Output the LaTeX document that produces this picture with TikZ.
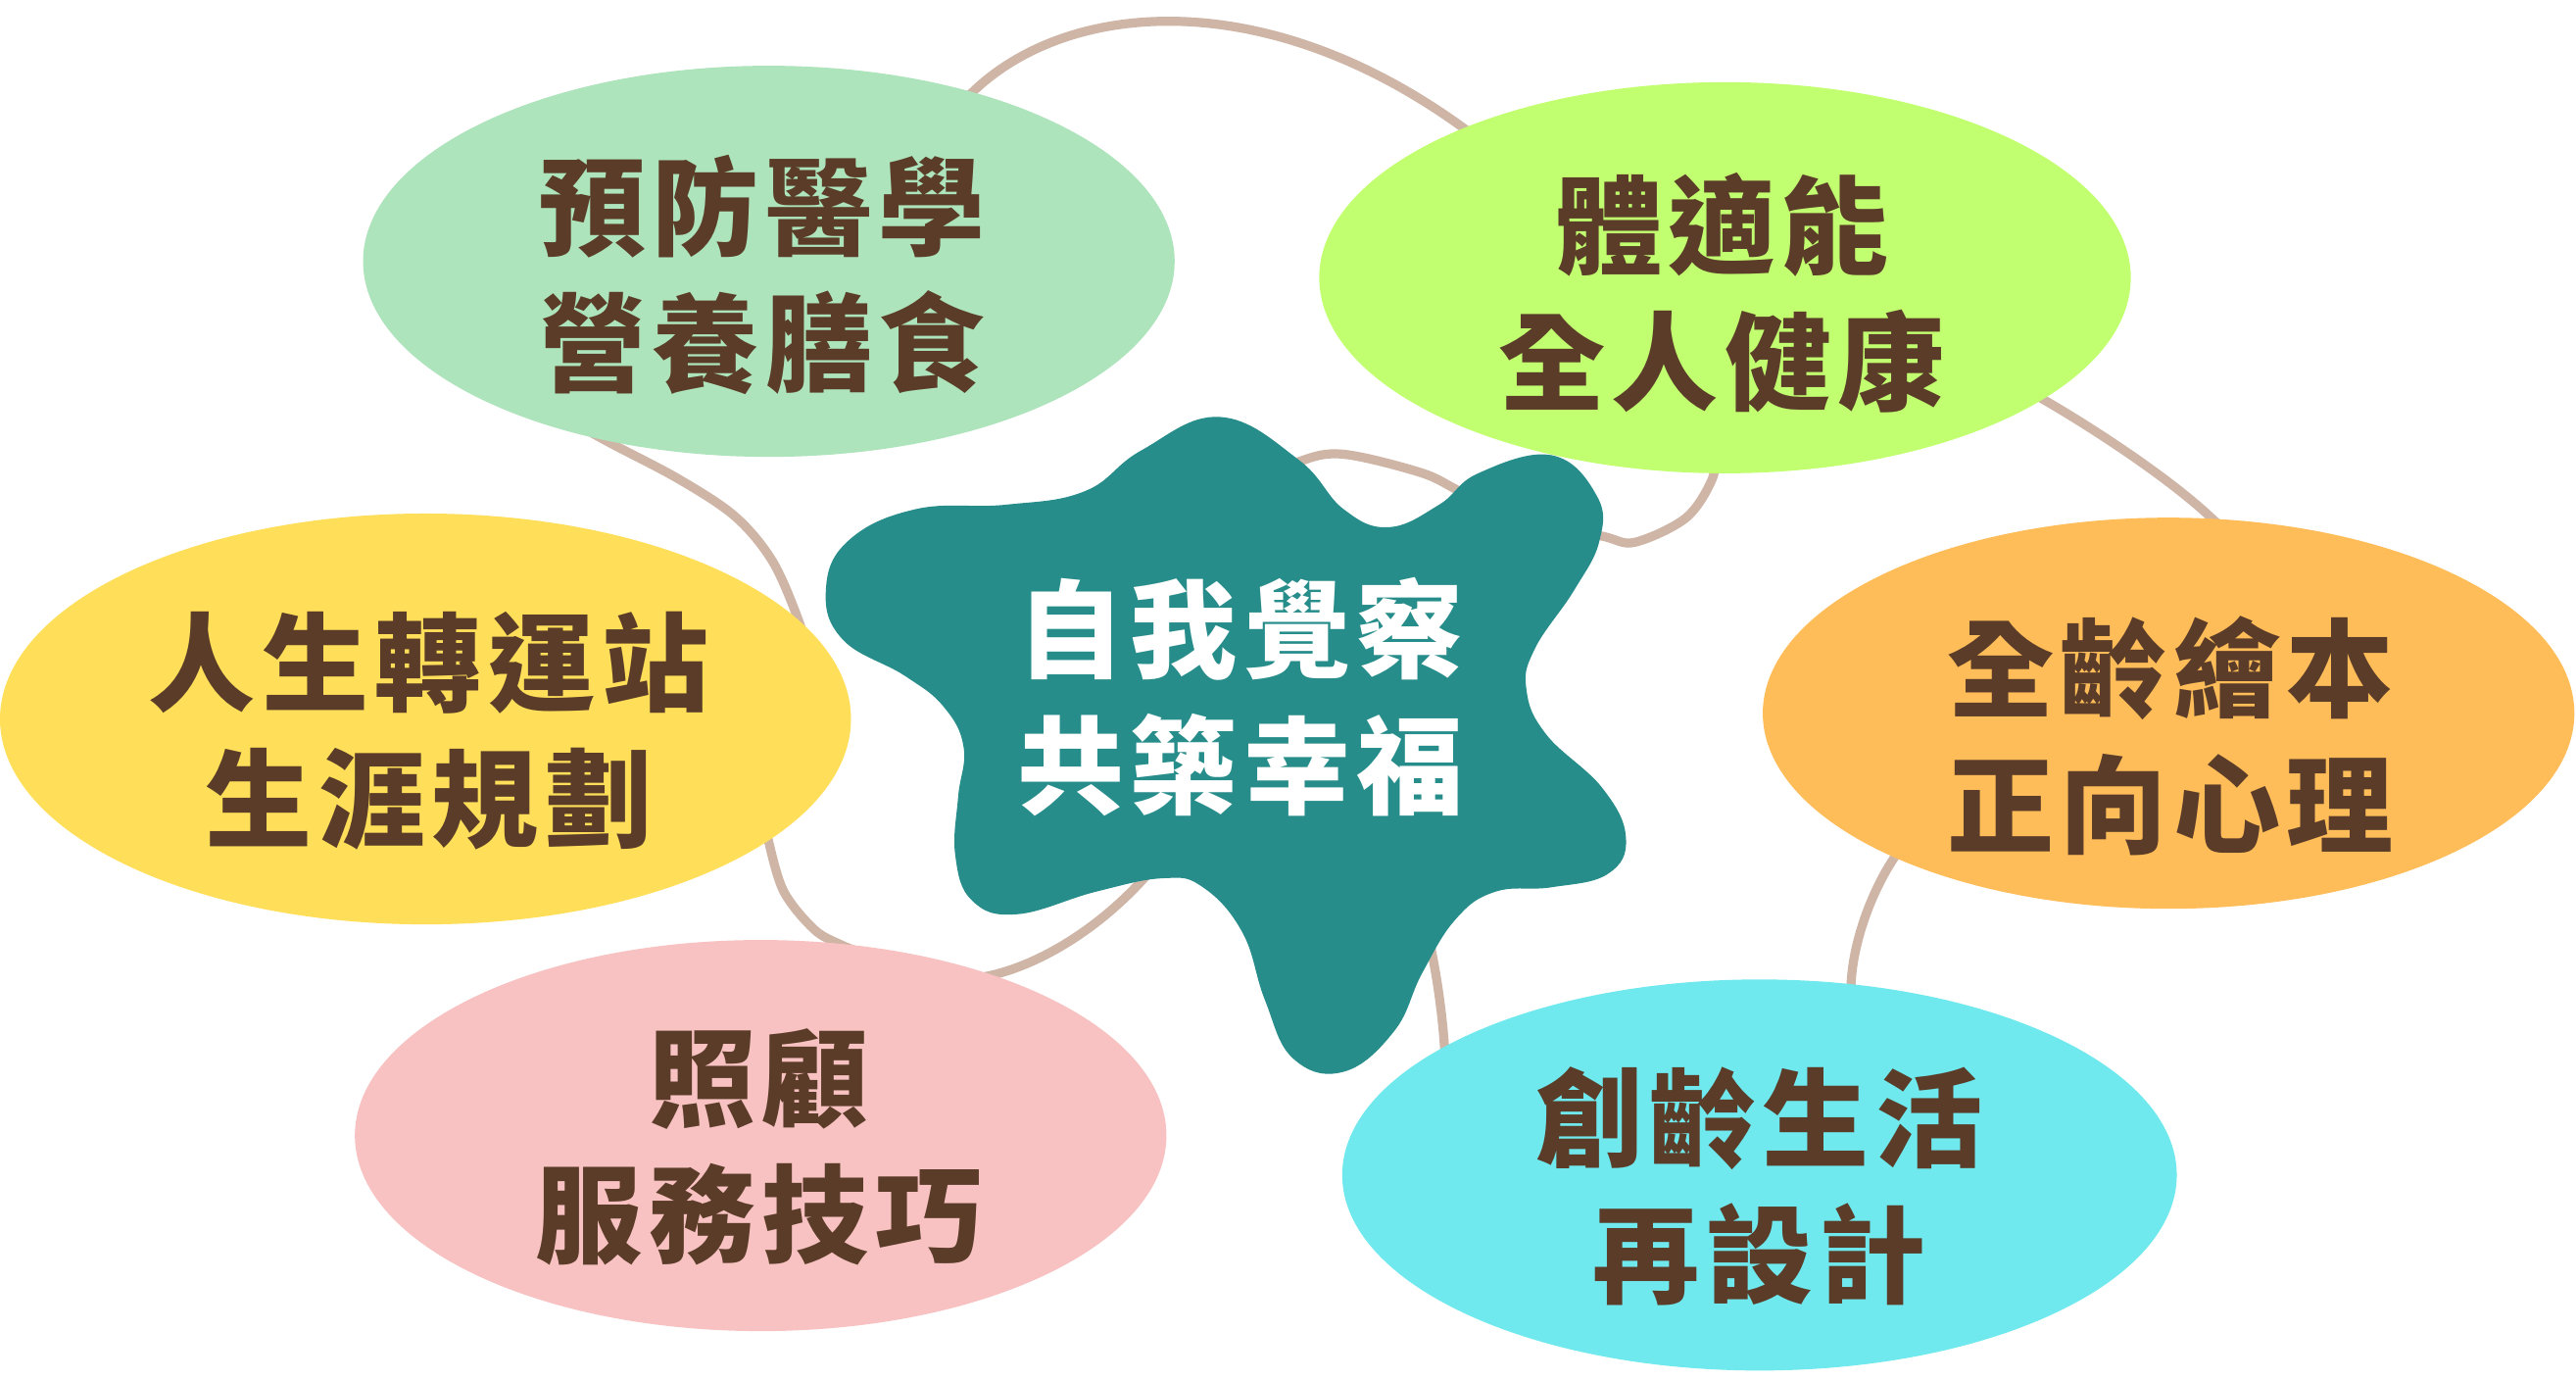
\documentclass[tikz,border=0pt]{standalone}
\usepackage{fontspec}
\newfontfamily\cjk{Noto Sans CJK TC}[LetterSpace=6]
\usetikzlibrary{shapes.geometric}
\definecolor{cGreen}{HTML}{AEE4BB}
\definecolor{cLime}{HTML}{C2FF70}
\definecolor{cYellow}{HTML}{FFDF5A}
\definecolor{cOrange}{HTML}{FFBD5A}
\definecolor{cPink}{HTML}{F8C2C2}
\definecolor{cCyan}{HTML}{70E9EE}
\definecolor{cTeal}{HTML}{278D8B}
\definecolor{cLine}{HTML}{CEB5A6}
\definecolor{cText}{HTML}{5A3C28}
\begin{document}
\begin{tikzpicture}[x=0.1mm,y=-0.1mm,
  ell/.style={ellipse, inner sep=0pt, draw=none},
  lbl/.style={font=\cjk\bfseries\fontsize{18.5pt}{23.6pt}\selectfont, text=cText, align=center, inner sep=0pt},
  conn/.style={draw=cLine, line width=0.55mm, line cap=round, line join=round}]
\useasboundingbox (0,0) rectangle (1568,839.2);
\fill[white] (0,0) rectangle (1568,839.2);

% connector end points (hidden under shapes)
\coordinate (a0) at (563,84);   \coordinate (a1) at (592,56);
\coordinate (a2) at (891,78);   \coordinate (a3) at (915,95.5);
\coordinate (b0) at (1224.5,231.9); \coordinate (b1) at (1244.5,243.5);
\coordinate (b2) at (1345.9,315);   \coordinate (b3) at (1361,329);
\coordinate (c0) at (1167,501); \coordinate (c1) at (1153,521.9);
\coordinate (c2) at (1126.8,597.4); \coordinate (c3) at (1125.8,622.4);
\coordinate (d0) at (862,540);  \coordinate (d1) at (880,680);
\coordinate (e0) at (706,524);  \coordinate (e1) at (694,537);
\coordinate (e2) at (601,594);  \coordinate (e3) at (576,599);
\coordinate (f0) at (465,495);  \coordinate (f1) at (530,582);
\coordinate (g0) at (340,252);  \coordinate (g1) at (492,400);
\coordinate (h0) at (750,300);  \coordinate (h1) at (1046,270);

% connectors
\draw[conn] (a0) -- (a1) .. controls (650,0) and (770,-10) .. (a2) -- (a3);
\draw[conn] (b0) -- (b1) .. controls (1274.5,260.9) and (1319.9,290.6) .. (b2) -- (b3);
\draw[conn] (c0) -- (c1) .. controls (1139,543) and (1128.3,572.4) .. (c2) -- (c3);
\draw[conn] (d0) .. controls (872,575) and (882,625) .. (d1);
\draw[conn] (e0) -- (e1) .. controls (665,568) and (630,588) .. (e2) -- (e3);
\draw[conn] plot[smooth, tension=0.55] coordinates {(f0) (468.1,513.1) (477.2,542.7) (495.5,565.5) (511.5,574.7) (f1)};
\draw[conn] plot[smooth, tension=0.55] coordinates {(g0) (370,268.8) (413.3,291.6) (447.6,314.4) (470.4,341.8) (486.4,378.4) (g1)};
\draw[conn] plot[smooth, tension=0.55] coordinates {(h0) (790.4,281) (817.8,276.4) (865.8,287.9) (891.4,300.2) (935,318) (975.4,326.3) (995,330) (1026,315.3) (1042,292) (h1)};

% ellipses
\node[ell, fill=cGreen,  minimum width=49.4mm, minimum height=23.8mm] (g) at (468,159) {};
\node[ell, fill=cLime,   minimum width=49.4mm, minimum height=23.8mm] (l) at (1050,169) {};
\node[ell, fill=cYellow, minimum width=51.8mm, minimum height=25.0mm] (y) at (259,437.5) {};
\node[ell, fill=cOrange, minimum width=49.4mm, minimum height=23.8mm] (o) at (1320,434) {};
\node[ell, fill=cPink,   minimum width=49.4mm, minimum height=23.8mm] (p) at (463,691) {};
\node[ell, fill=cCyan,   minimum width=50.8mm, minimum height=23.8mm] (c) at (1071,715) {};

% central splat
\fill[cTeal] plot[smooth cycle, tension=0.7] coordinates {
 (742.5,253.7) (790.4,279.7) (817.8,309.8) (845.2,320.8) (876.0,307.1) (900.0,287.9)
 (944.5,277.0) (971.9,301.6) (973.6,329.0) (958.2,359.1) (934.3,394.7) (929.1,419.4)
 (941.1,446.8) (975.4,479.6) (989.7,509.8) (978.8,531.7) (944.5,539.9) (910.3,542.6)
 (886.3,559.1) (865.8,591.9) (848.6,627.5) (817.8,652.2) (787.0,644.0) (769.9,608.4)
 (756.2,567.3) (732.2,539.9) (708.2,534.4) (667.1,542.6) (619.2,556.3) (591.8,548.1)
 (581.5,520.7) (583.2,485.1) (586.6,455.0) (574.6,430.3) (550.7,411.2) (513.0,389.2)
 (502.7,359.1) (516.4,329.0) (557.5,309.8) (612.3,307.1) (660.3,298.9) (694.5,274.2)};

% labels
\node[lbl] (gt) at (464,167) {預防醫學\\營養膳食};
\node[lbl] (lt) at (1048,178) {體適能\\全人健康};
\node[lbl] (yt) at (261,445) {人生轉運站\\生涯規劃};
\node[lbl] (ot) at (1321,448) {全齡繪本\\正向心理};
\node[lbl] (pt) at (462,698) {照顧\\服務技巧};
\node[lbl] (ctx) at (1071,722) {創齡生活\\再設計};
\node[lbl, text=white] (st) at (755,424) {自我覺察\\共築幸福};
\end{tikzpicture}
\end{document}
